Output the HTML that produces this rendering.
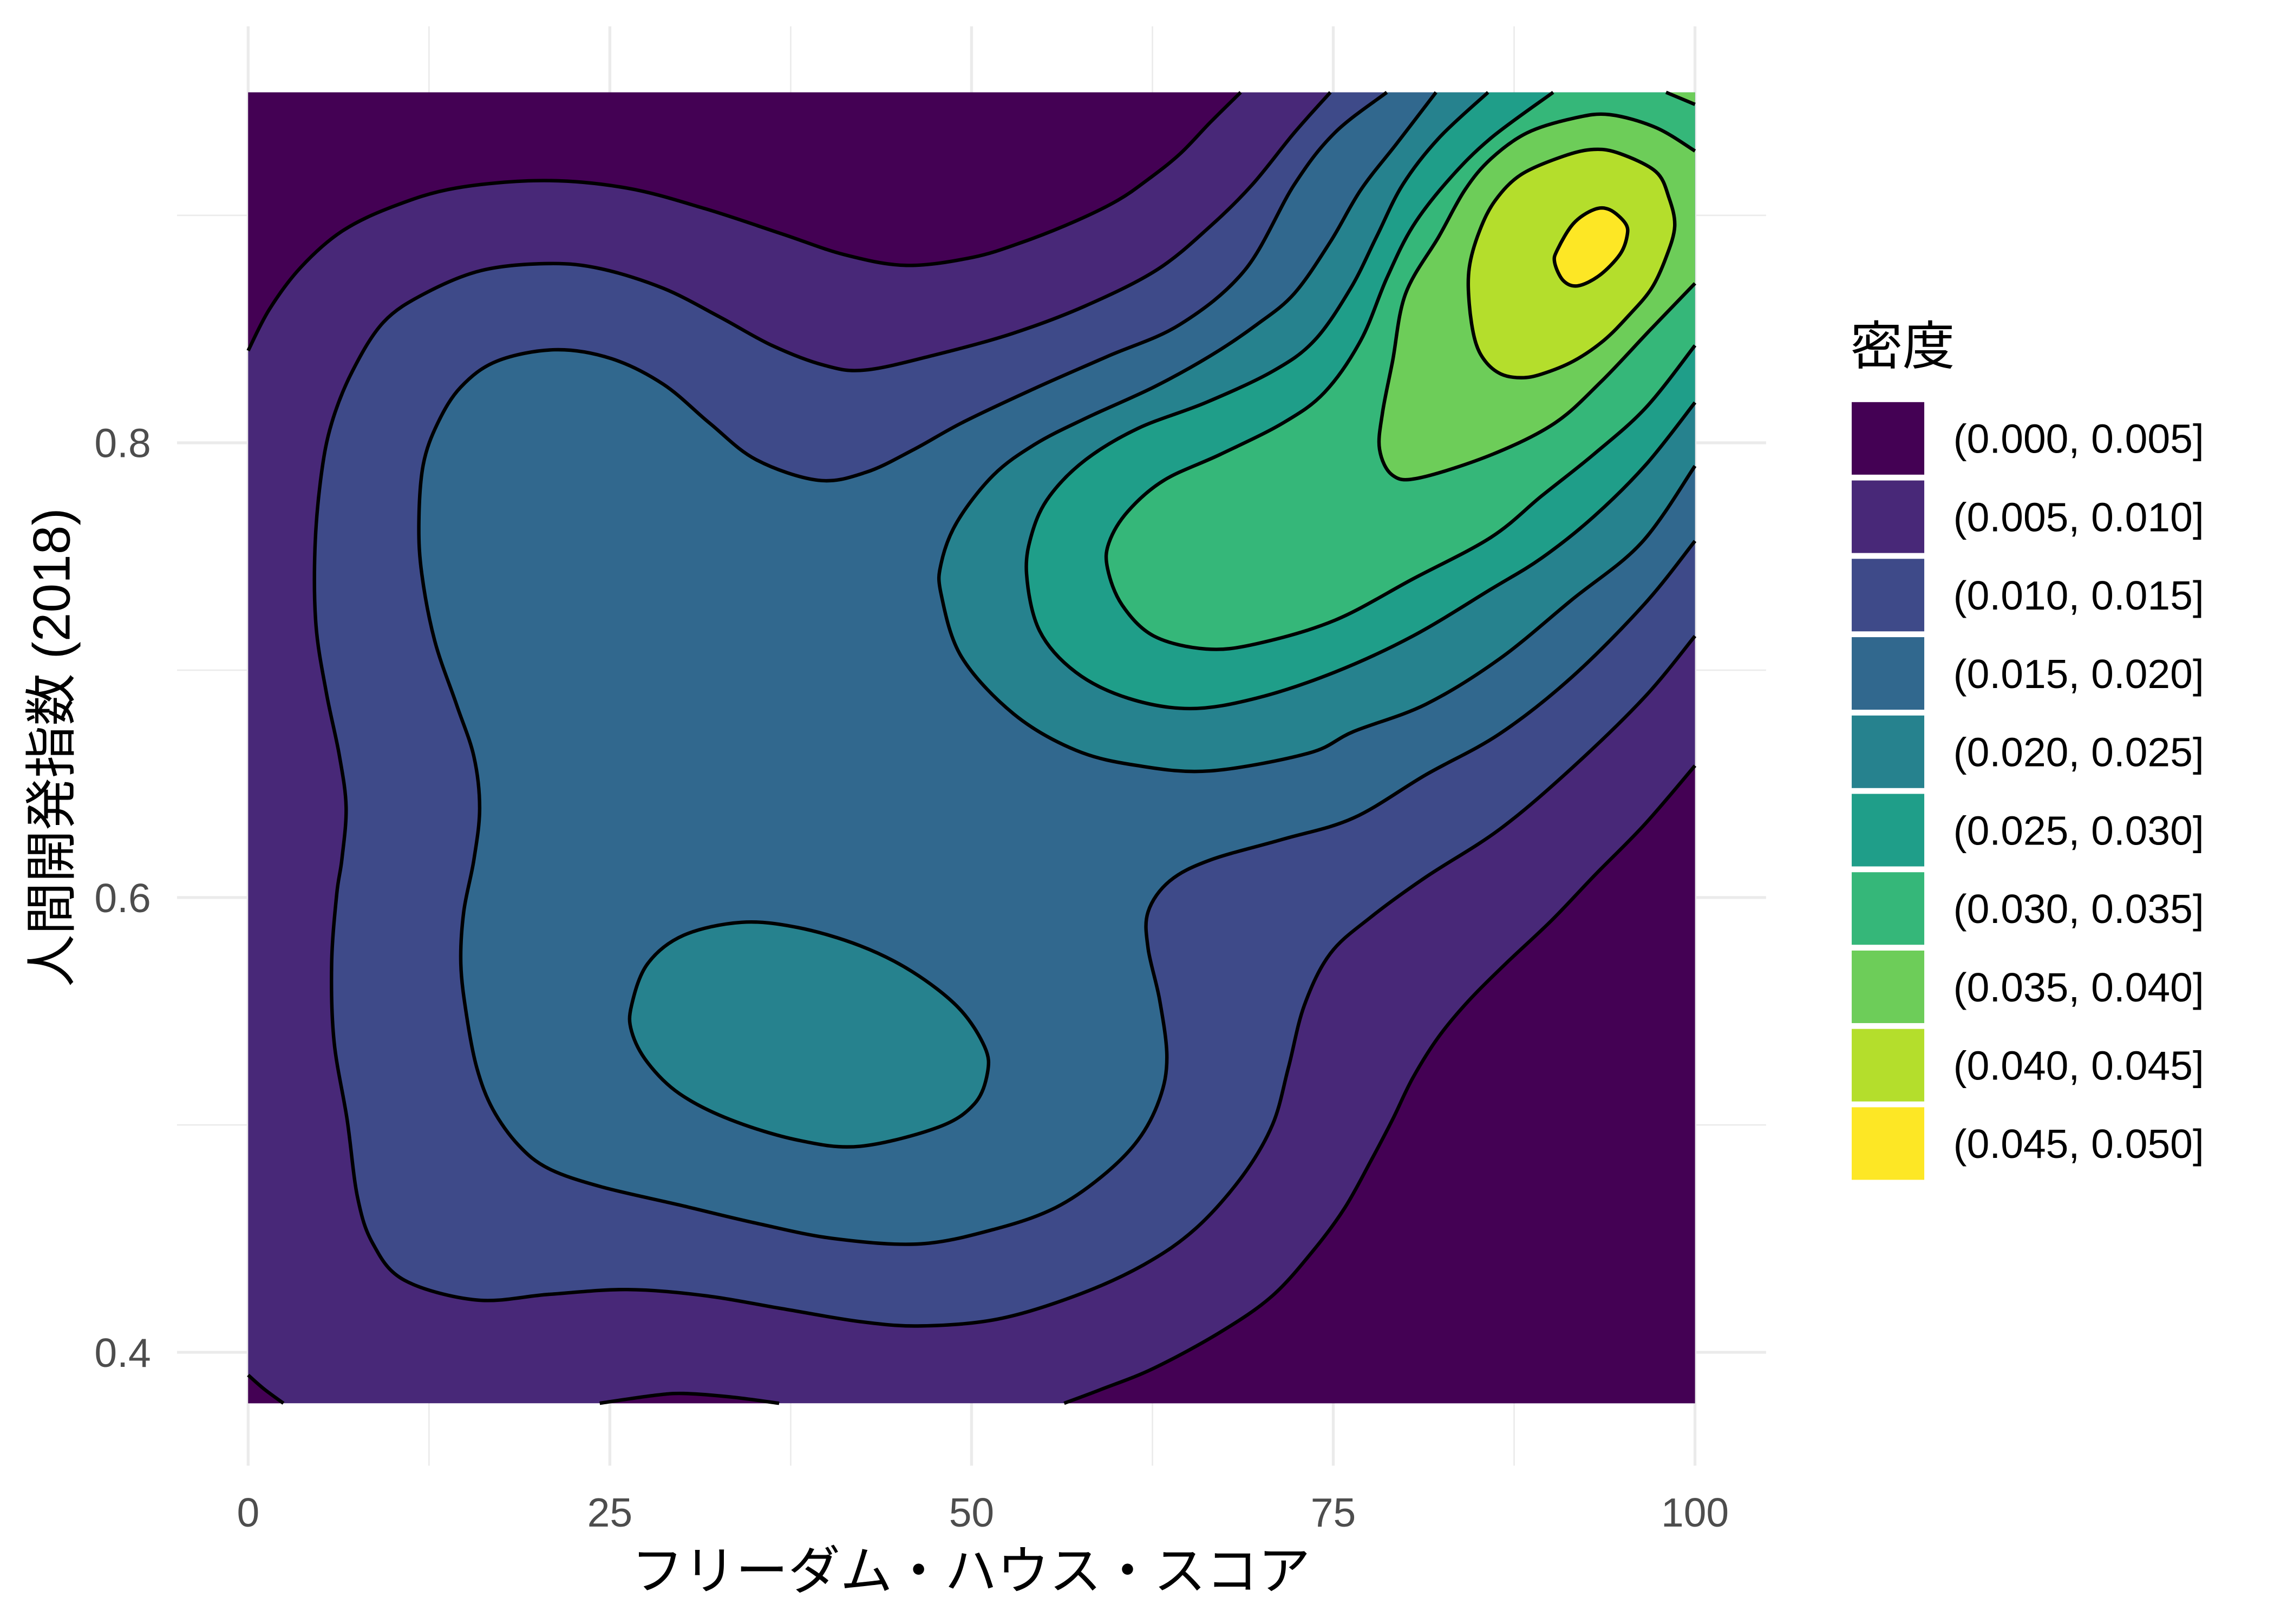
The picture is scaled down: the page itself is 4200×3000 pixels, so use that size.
<!DOCTYPE html>
<html><head><meta charset="utf-8"><style>html,body{margin:0;padding:0;background:#fff}svg{display:block}</style></head>
<body>
<svg id="chart" xmlns="http://www.w3.org/2000/svg" width="4200" height="3000" viewBox="0 0 1567 1119">
<rect x="0" y="0" width="1567" height="1119" fill="#fff"/>
<g id="grid"></g>
<g id="panel"></g>
<g id="axes"></g>
<text x="669" y="1095" text-anchor="middle" font-size="36" fill="#000" font-family="Liberation Sans, Noto Sans CJK JP, sans-serif">フリーダム・ハウス・スコア</text>
<text transform="translate(48,515) rotate(-90)" text-anchor="middle" font-size="36" fill="#000" font-family="Liberation Sans, Noto Sans CJK JP, sans-serif">人間開発指数 (2018)</text>
<g id="legend">
<text x="1275" y="251" font-size="36" fill="#000" font-family="Liberation Sans, Noto Sans CJK JP, sans-serif">密度</text>
</g>
</svg>
<script>
const xTicks = [0, 25, 50, 75, 100];
const xMinor = [12.5, 37.5, 62.5, 87.5];
const yTicks = [0.4, 0.6, 0.8];
const yMinor = [0.5, 0.7, 0.9];
const xTickLabels = ["0", "25", "50", "75", "100"];
const yTickLabels = ["0.4", "0.6", "0.8"];
const legendLabels = ["(0.000, 0.005]","(0.005, 0.010]","(0.010, 0.015]","(0.015, 0.020]","(0.020, 0.025]","(0.025, 0.030]","(0.030, 0.035]","(0.035, 0.040]","(0.040, 0.045]","(0.045, 0.050]"];
const levelColors = ["#440154","#482878","#3E4A89","#31688E","#26828E","#1F9E89","#35B779","#6DCD59","#B4DE2C","#FDE725"];
const xDomain = [0, 100];
const yDomain = [0.3776, 0.9541];

const dark_top = [[0,0.8405],[1.47,0.8587],[3.62,0.877],[6.48,0.893],[10.06,0.904],[14.36,0.912],[20.45,0.9153],[26.18,0.912],[31.55,0.903],[36.92,0.8918],[41.22,0.8827],[45.5,0.878],[50.05,0.8815],[53.6,0.8884],[57.2,0.8975],[60.1,0.9066],[62.2,0.9158],[64.4,0.927],[66.5,0.9409],[68.6,0.9541]];
const dark_br = [[100,0.658],[96.5,0.632],[93.1,0.61],[90.1,0.59],[86.9,0.5708],[84.4,0.5549],[82.3,0.5389],[80.5,0.5207],[79.1,0.5024],[77.6,0.4842],[75.8,0.4636],[73.7,0.4454],[70.8,0.4249],[67.2,0.4089],[62.6,0.393],[59.0,0.3838],[56.4,0.3776]];
const dark_bump = [[24.3,0.3776],[28.0,0.381],[30.1,0.3819],[33.3,0.3804],[36.7,0.3776]];
const dark_corner = [[0,0.39],[1.11,0.3838],[2.44,0.3776]];
const lvl010 = [[100,0.715],[96.5,0.688],[91.5,0.657],[86.5,0.63],[81.4,0.609],[77.6,0.5914],[74.8,0.5754],[73.0,0.5526],[71.9,0.5252],[70.8,0.5001],[68.7,0.4773],[65.5,0.4545],[61.9,0.4385],[57.2,0.4249],[51.8,0.4146],[46.5,0.4116],[42.3,0.4135],[36.9,0.4192],[31.6,0.4249],[26.2,0.4276],[20.8,0.4255],[15.8,0.423],[10.8,0.4317],[8.63,0.4477],[7.56,0.4682],[6.84,0.5024],[5.94,0.5366],[5.77,0.5708],[6.12,0.6014],[6.48,0.6169],[6.77,0.6398],[6.3,0.6626],[5.41,0.6899],[4.69,0.7196],[4.62,0.7538],[5.05,0.7857],[5.77,0.8086],[7.2,0.8314],[9.35,0.853],[12.2,0.8656],[16.15,0.8758],[20.8,0.8788],[24.4,0.8765],[28.7,0.8679],[32.6,0.8553],[36.2,0.8428],[39.8,0.8341],[42.7,0.832],[47.7,0.839],[52.8,0.848],[57.8,0.86],[62.8,0.876],[66.5,0.8952],[69.4,0.9135],[72.3,0.9363],[74.8,0.9541]];
const lvl015 = [[100,0.7568],[96.5,0.729],[91.5,0.697],[86.5,0.672],[81.4,0.654],[76.4,0.635],[71.5,0.6256],[66.5,0.6165],[63.7,0.6073],[62.2,0.5937],[62.2,0.5777],[63.0,0.5549],[63.5,0.5298],[63.0,0.5115],[61.5,0.4933],[59.0,0.4773],[55.8,0.4636],[51.8,0.4545],[46.5,0.4477],[40.5,0.45],[35.1,0.4568],[29.8,0.4648],[24.4,0.4728],[20.8,0.4807],[18.7,0.491],[16.9,0.507],[15.8,0.5252],[15.1,0.548],[14.7,0.5708],[14.9,0.5937],[15.6,0.6165],[16.0,0.6393],[15.6,0.6621],[14.4,0.6849],[12.9,0.7128],[12.0,0.7424],[11.8,0.7652],[12.1,0.7903],[13.1,0.8086],[14.7,0.8245],[17.2,0.8359],[21.2,0.8409],[25.1,0.837],[28.7,0.8257],[31.9,0.8086],[35.1,0.7926],[39.4,0.7835],[42.7,0.787],[46.0,0.797],[49.4,0.809],[54.4,0.824],[59.4,0.838],[64.4,0.852],[68.9,0.876],[72.3,0.9135],[75.1,0.9363],[78.7,0.9541]];
const lvl020a = [[26.5,0.5526],[27.6,0.5708],[30.1,0.5834],[34.1,0.5891],[38.0,0.5868],[42.3,0.5788],[45.9,0.5674],[49.1,0.5515],[50.9,0.5344],[51.1,0.5229],[50.2,0.5093],[47.7,0.499],[42.3,0.4906],[38.0,0.4933],[33.3,0.5024],[29.8,0.5138],[27.6,0.5275],[26.5,0.5412]];
const lvl020b = [[100,0.7898],[96.3,0.756],[91.5,0.731],[86.5,0.705],[81.4,0.685],[76.4,0.673],[73.3,0.6635],[66.5,0.6557],[61.5,0.658],[57.2,0.6648],[52.9,0.6808],[49.3,0.7059],[47.9,0.7333],[47.9,0.747],[49.0,0.7652],[51.5,0.7857],[54.4,0.7994],[57.9,0.8108],[62.6,0.8245],[66.5,0.8382],[69.7,0.8519],[72.3,0.8656],[74.8,0.8884],[76.9,0.9112],[79.4,0.9317],[82.1,0.9541]];
const lvl025 = [[100,0.8177],[96.6,0.7903],[93.0,0.7675],[89.4,0.7493],[85.9,0.7356],[80.5,0.715],[75.1,0.6991],[69.7,0.6877],[65.1,0.6831],[60.8,0.6877],[57.2,0.6991],[54.7,0.7173],[53.8,0.7424],[54.2,0.7607],[55.4,0.7766],[57.9,0.7926],[61.5,0.8063],[66.2,0.8177],[70.8,0.8314],[73.7,0.845],[76.2,0.8679],[78.0,0.8907],[79.8,0.9135],[82.3,0.934],[85.7,0.9541]];
const lvl030 = [[100,0.8428],[96.6,0.8154],[93.0,0.7949],[89.4,0.7766],[85.9,0.7584],[80.5,0.7401],[75.1,0.7219],[69.7,0.7116],[66.2,0.7093],[62.6,0.715],[60.4,0.7287],[59.4,0.7447],[59.5,0.7561],[60.8,0.7698],[63.3,0.7835],[67.2,0.7949],[71.5,0.8086],[74.4,0.8222],[76.9,0.845],[78.7,0.8724],[80.5,0.8952],[83.0,0.9158],[85.9,0.934],[90.2,0.9541]];
const lvl035a = [[100,0.8701],[96.9,0.8496],[93.5,0.8268],[90.3,0.8086],[86.0,0.7949],[81.0,0.7846],[79.1,0.7857],[78.2,0.7971],[78.4,0.8131],[79.1,0.8359],[80.0,0.8656],[82.3,0.8907],[84.1,0.9112],[85.9,0.9249],[88.4,0.9363],[91.6,0.9427],[94.1,0.9443],[97.3,0.9386],[100,0.9283]];
const lvl035b = [[98.0,0.9541],[100,0.9488]];
const lvl040 = [[84.4,0.861],[84.4,0.877],[85.1,0.893],[86.2,0.9066],[88.0,0.918],[90.9,0.926],[93.0,0.929],[94.8,0.9272],[97.3,0.9192],[98.2,0.9078],[98.6,0.8952],[98.0,0.8815],[97.0,0.8679],[95.5,0.8565],[93.7,0.845],[91.6,0.8359],[89.4,0.8302],[88.0,0.8286],[86.6,0.8302],[85.5,0.8359],[84.8,0.845]];
const lvl045 = [[90.3,0.8793],[90.5,0.885],[91.6,0.8964],[93.0,0.9025],[94.1,0.9025],[95.2,0.8964],[95.3,0.8907],[94.8,0.8827],[93.4,0.8736],[91.9,0.869],[90.9,0.8713]];

const NS = "http://www.w3.org/2000/svg";
const PX0 = 171, PX1 = 1168, PY0 = 967, PY1 = 63.5;
function sx(v){ return PX0 + (v - xDomain[0]) / (xDomain[1]-xDomain[0]) * (PX1-PX0); }
function sy(v){ return PY0 - (v - yDomain[0]) / (yDomain[1]-yDomain[0]) * (PY0-PY1); }
function mk(tag, attrs, parent){ const e=document.createElementNS(NS,tag); for(const k in attrs) e.setAttribute(k,attrs[k]); parent.appendChild(e); return e; }

function smooth(pts, closed){
  const p = pts.map(d=>[sx(d[0]), sy(d[1])]);
  const n = p.length;
  let d = "M"+p[0][0].toFixed(2)+","+p[0][1].toFixed(2);
  const segs = closed ? n : n-1;
  for(let i=0;i<segs;i++){
    const p0 = p[closed ? (i-1+n)%n : Math.max(i-1,0)];
    const p1 = p[i], p2 = p[(i+1)%n];
    const p3 = p[closed ? (i+2)%n : Math.min(i+2,n-1)];
    const c1 = [p1[0]+(p2[0]-p0[0])/6, p1[1]+(p2[1]-p0[1])/6];
    const c2 = [p2[0]-(p3[0]-p1[0])/6, p2[1]-(p3[1]-p1[1])/6];
    d += "C"+c1[0].toFixed(2)+","+c1[1].toFixed(2)+" "+c2[0].toFixed(2)+","+c2[1].toFixed(2)+" "+p2[0].toFixed(2)+","+p2[1].toFixed(2);
  }
  if(closed) d += "Z";
  return d;
}
function closingPath(corners){
  let d=""; corners.forEach(c=>{ d += "L"+sx(c[0]).toFixed(2)+","+sy(c[1]).toFixed(2); }); return d+"Z";
}

const grid = document.getElementById('grid');
const GX0 = 122, GX1 = 1217, GY0 = 18, GY1 = 1010;
xMinor.forEach(v=>{ const l=mk('line',{x1:sx(v),x2:sx(v),y1:GY0,y2:GY1,stroke:'#ebebeb','stroke-width':1},grid);
    });
yMinor.forEach(v=>{ const l=mk('line',{x1:GX0,x2:GX1,y1:sy(v),y2:sy(v),stroke:'#ebebeb','stroke-width':1},grid);
    });
xTicks.forEach(v=>{ const l=mk('line',{x1:sx(v),x2:sx(v),y1:GY0,y2:GY1,stroke:'#ebebeb','stroke-width':2},grid);
    });
yTicks.forEach(v=>{ const l=mk('line',{x1:GX0,x2:GX1,y1:sy(v),y2:sy(v),stroke:'#ebebeb','stroke-width':2},grid);
    });

const panel = document.getElementById('panel');
const base = mk('rect',{x:sx(0),y:sy(yDomain[1]),width:sx(100)-sx(0),height:sy(yDomain[0])-sy(yDomain[1]),fill:levelColors[1]},panel);



const TL=[0,yDomain[1]], TR=[100,yDomain[1]], BR=[100,yDomain[0]], BL=[0,yDomain[0]];
const regions = [
  {pts:dark_top, close:[TL], lvl:0, name:'density-band-low-top-left'},
  {pts:dark_br, close:[BR], lvl:0, name:'density-band-low-bottom-right'},
  {pts:dark_bump, close:[], lvl:0, name:'density-band-low-bottom-bump'},
  {pts:dark_corner, close:[BL], lvl:0, name:'density-band-low-bottom-corner'},
  {pts:lvl010, close:[TR], lvl:2, name:'density-band-0.010-0.015'},
  {pts:lvl015, close:[TR], lvl:3, name:'density-band-0.015-0.020'},
  {pts:lvl020a, closed:true, lvl:4, name:'density-band-0.020-0.025-lower'},
  {pts:lvl020b, close:[TR], lvl:4, name:'density-band-0.020-0.025-upper'},
  {pts:lvl025, close:[TR], lvl:5, name:'density-band-0.025-0.030'},
  {pts:lvl030, close:[TR], lvl:6, name:'density-band-0.030-0.035'},
  {pts:lvl035a, close:[], lvl:7, name:'density-band-0.035-0.040'},
  {pts:lvl035b, close:[TR], lvl:7, name:'density-band-0.035-0.040-corner'},
  {pts:lvl040, closed:true, lvl:8, name:'density-band-0.040-0.045'},
  {pts:lvl045, closed:true, lvl:9, name:'density-band-0.045-0.050'}
];
regions.forEach(r=>{
  const d = r.closed ? smooth(r.pts,true) : smooth(r.pts,false)+closingPath(r.close);
  const f = mk('path',{d:d,fill:levelColors[r.lvl],stroke:'none'},panel);
  
  
});
regions.forEach(r=>{
  const s = mk('path',{d:smooth(r.pts,!!r.closed),fill:'none',stroke:'#000','stroke-width':2.4,'stroke-linejoin':'round'},panel);
  
  
});

const axes = document.getElementById('axes');
xTicks.forEach((v,i)=>{ const t=mk('text',{x:sx(v),y:1052,'text-anchor':'middle','font-size':28,fill:'#4d4d4d','font-family':'Liberation Sans, sans-serif'},axes);
  t.textContent=xTickLabels[i];
    });
yTicks.forEach((v,i)=>{ const t=mk('text',{x:104,y:sy(v)+10,'text-anchor':'end','font-size':28,fill:'#4d4d4d','font-family':'Liberation Sans, sans-serif'},axes);
  t.textContent=yTickLabels[i];
    });

const legend = document.getElementById('legend');
legendLabels.forEach((lab,i)=>{
  const y = 277 + i*54;
  const r = mk('rect',{x:1276,y:y,width:50,height:50,fill:levelColors[i]},legend);
  
  
  const t = mk('text',{x:1346,y:y+35,'font-size':28,fill:'#000','font-family':'Liberation Sans, sans-serif'},legend);
  t.textContent = lab;
  
  
});
</script>
</body></html>
